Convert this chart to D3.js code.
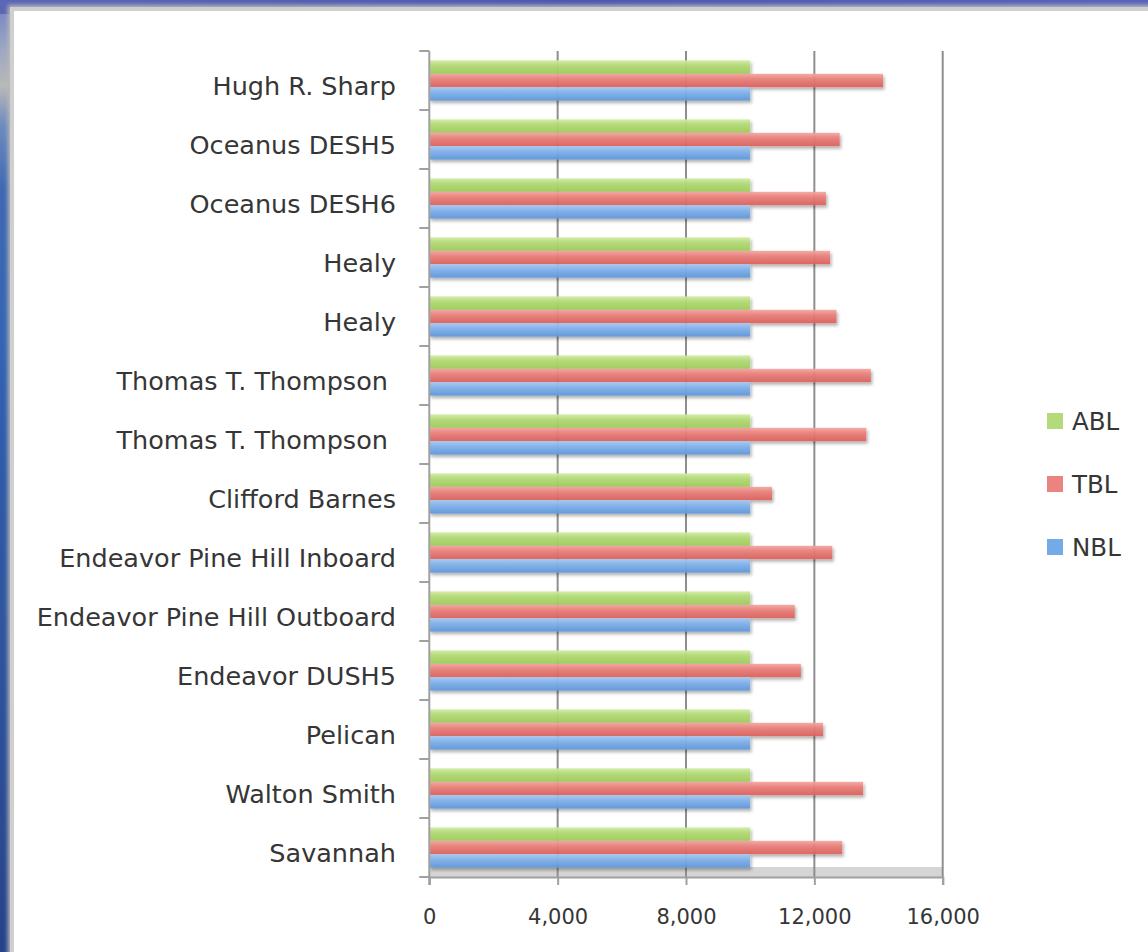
<!DOCTYPE html>
<html>
<head>
<meta charset="utf-8">
<script src="https://cdn.jsdelivr.net/npm/d3@7"></script>
<style>
  html, body { margin: 0; padding: 0; background: #2f56a3; }
  svg { display: block; }
  text { font-family: "DejaVu Sans", Verdana, sans-serif; fill: #363636; }
</style>
</head>
<body>
<div id="chart"></div>
<script>
// ---------- data ----------
const categories = [
  "Hugh R. Sharp", "Oceanus DESH5", "Oceanus DESH6", "Healy", "Healy",
  "Thomas T. Thompson ", "Thomas T. Thompson ", "Clifford Barnes",
  "Endeavor Pine Hill Inboard", "Endeavor Pine Hill Outboard",
  "Endeavor DUSH5", "Pelican", "Walton Smith", "Savannah"
];
const seriesNames = ["ABL", "TBL", "NBL"];
const ablValues = [10000, 10000, 10000, 10000, 10000, 10000, 10000, 10000, 10000, 10000, 10000, 10000, 10000, 10000];
const tblValues = [14140, 12790, 12360, 12490, 12690, 13760, 13620, 10680, 12560, 11390, 11580, 12270, 13520, 12870];
const nblValues = [10000, 10000, 10000, 10000, 10000, 10000, 10000, 10000, 10000, 10000, 10000, 10000, 10000, 10000];
const xTicks = [0, 4000, 8000, 12000, 16000];
const xDomain = [0, 16000];

const seriesValues = { ABL: ablValues, TBL: tblValues, NBL: nblValues };

// ---------- layout ----------
const W = 1148, H = 952;
const plot = { left: 429.3, right: 942.7, top: 51, bottom: 877 };

const svg = d3.select("#chart").append("svg")
  .attr("width", W).attr("height", H);

const defs = svg.append("defs");

// backdrop gradients
const lg = defs.append("linearGradient").attr("id", "ocean").attr("x1", 0).attr("y1", 0).attr("x2", 0).attr("y2", 1);
[[0, "#6f7fbf"], [0.05, "#9aa6c4"], [0.09, "#b9b9b8"], [0.13, "#6f8cc0"], [0.2, "#3f68b2"],
 [0.35, "#3565b3"], [0.5, "#2e5aa8"], [0.65, "#2f569f"], [0.8, "#2c4e96"], [1, "#26438a"]]
  .forEach(([o, c]) => lg.append("stop").attr("offset", o).attr("stop-color", c));
const tg = defs.append("linearGradient").attr("id", "topband").attr("x1", 0).attr("y1", 0).attr("x2", 1).attr("y2", 0);
[[0, "#5a66b6"], [0.5, "#4c56b0"], [1, "#5663b9"]]
  .forEach(([o, c]) => tg.append("stop").attr("offset", o).attr("stop-color", c));

const blur = defs.append("filter").attr("id", "panelShadow").attr("x", "-5%").attr("y", "-5%").attr("width", "110%").attr("height", "110%");
blur.append("feGaussianBlur").attr("stdDeviation", 2);

const shadow = defs.append("filter").attr("id", "barShadow").attr("x", "-5%").attr("y", "-50%").attr("width", "115%").attr("height", "220%");
shadow.append("feDropShadow").attr("dx", 1.5).attr("dy", 2.5).attr("stdDeviation", 1.8)
  .attr("flood-color", "#000").attr("flood-opacity", 0.32);

// bar gradients
const barColors = {
  ABL: ["#cfeba2", "#b2da76", "#9fcc5a"],
  TBL: ["#f4a6a2", "#e97f7a", "#db625d"],
  NBL: ["#a7caf3", "#80b1eb", "#5f97da"]
};
const legendColors = { ABL: "#b3db7c", TBL: "#eb8480", NBL: "#74aae8" };
seriesNames.forEach(s => {
  const g = defs.append("linearGradient").attr("id", "grad-" + s)
    .attr("x1", 0).attr("y1", 0).attr("x2", 0).attr("y2", 1);
  g.append("stop").attr("offset", 0).attr("stop-color", barColors[s][0]);
  g.append("stop").attr("offset", 0.4).attr("stop-color", barColors[s][1]);
  g.append("stop").attr("offset", 1).attr("stop-color", barColors[s][2]);
});

// backdrop
svg.append("rect").attr("width", W).attr("height", H).attr("fill", "url(#ocean)");
svg.append("rect").attr("width", W).attr("height", 14).attr("fill", "url(#topband)");
svg.append("rect").attr("x", 8).attr("y", 5).attr("width", W).attr("height", H)
  .attr("fill", "#b8b8b8").attr("filter", "url(#panelShadow)");
svg.append("rect").attr("x", 10).attr("y", 7).attr("width", W).attr("height", H)
  .attr("fill", "#cfcfcf");
svg.append("rect").attr("x", 14).attr("y", 11).attr("width", W).attr("height", H)
  .attr("fill", "#ffffff");

// ---------- scales ----------
const x = d3.scaleLinear().domain(xDomain).range([plot.left, plot.right]);
const y0 = d3.scaleBand().domain(d3.range(categories.length)).range([plot.top, plot.bottom]).padding(0);
const y1 = d3.scaleBand().domain(seriesNames).range([0, y0.bandwidth()]).paddingInner(0).paddingOuter(0.7);

const g = svg.append("g");

// floor
g.append("rect")
  .attr("x", x(0)).attr("y", plot.bottom - 10)
  .attr("width", x(xDomain[1]) - x(0)).attr("height", 10)
  .attr("fill", "#d5d5d5");

// gridlines
g.selectAll(".grid").data(xTicks.filter(d => d > 0)).enter().append("line")
  .attr("x1", d => x(d)).attr("x2", d => x(d))
  .attr("y1", plot.top).attr("y2", plot.bottom)
  .attr("stroke", "#8e8e8e").attr("stroke-width", 2);

// bars
const groups = g.selectAll(".cat").data(categories.map((c, i) => i)).enter().append("g")
  .attr("transform", i => `translate(0,${y0(i)})`);
groups.selectAll("rect").data(i => seriesNames.map(s => ({ s, v: seriesValues[s][i] })))
  .enter().append("rect")
  .attr("x", x(0))
  .attr("y", d => y1(d.s))
  .attr("width", d => x(d.v) - x(0))
  .attr("height", y1.bandwidth())
  .attr("fill", d => "url(#grad-" + d.s + ")")
  .attr("fill-opacity", 0.94)
  .attr("filter", "url(#barShadow)");

// left axis line and boundary ticks
g.append("line").attr("x1", plot.left).attr("x2", plot.left)
  .attr("y1", plot.top).attr("y2", plot.bottom + 8)
  .attr("stroke", "#a0a0a0").attr("stroke-width", 2);
const bounds = d3.range(categories.length + 1).map(i => plot.top + i * y0.step());
g.selectAll(".ltick").data(bounds).enter().append("line")
  .attr("x1", plot.left - 10).attr("x2", plot.left)
  .attr("y1", d => d).attr("y2", d => d)
  .attr("stroke", "#a0a0a0").attr("stroke-width", 2);

// category labels
g.selectAll(".clabel").data(categories).enter().append("text")
  .attr("xml:space", "preserve")
  .style("white-space", "pre")
  .attr("x", 396)
  .attr("y", (d, i) => y0(i) + y0.bandwidth() / 2 + 14)
  .attr("text-anchor", "end")
  .attr("font-size", 25.5)
  .text(d => d);

// bottom axis
const xAxis = d3.axisBottom(x).tickValues(xTicks).tickSize(8).tickPadding(24)
  .tickFormat(d3.format(","));
const ax = g.append("g").attr("transform", `translate(0,${plot.bottom})`).call(xAxis);
ax.select(".domain").attr("stroke", "#a0a0a0").attr("stroke-width", 2);
ax.selectAll(".tick line").attr("stroke", "#a0a0a0").attr("stroke-width", 2);
ax.selectAll(".tick text")
  .attr("font-family", "DejaVu Sans, Verdana, sans-serif")
  .attr("font-size", 21).attr("fill", "#363636");

// legend
const legend = g.append("g");
const legendY = d3.scalePoint().domain(seriesNames).range([421, 547]);
seriesNames.forEach(s => {
  legend.append("rect").attr("x", 1047).attr("y", legendY(s) - 8)
    .attr("width", 16).attr("height", 16).attr("fill", legendColors[s]);
  legend.append("text").attr("x", 1072).attr("y", legendY(s) + 9)
    .attr("font-size", 24.5).text(s);
});
</script>
</body>
</html>
